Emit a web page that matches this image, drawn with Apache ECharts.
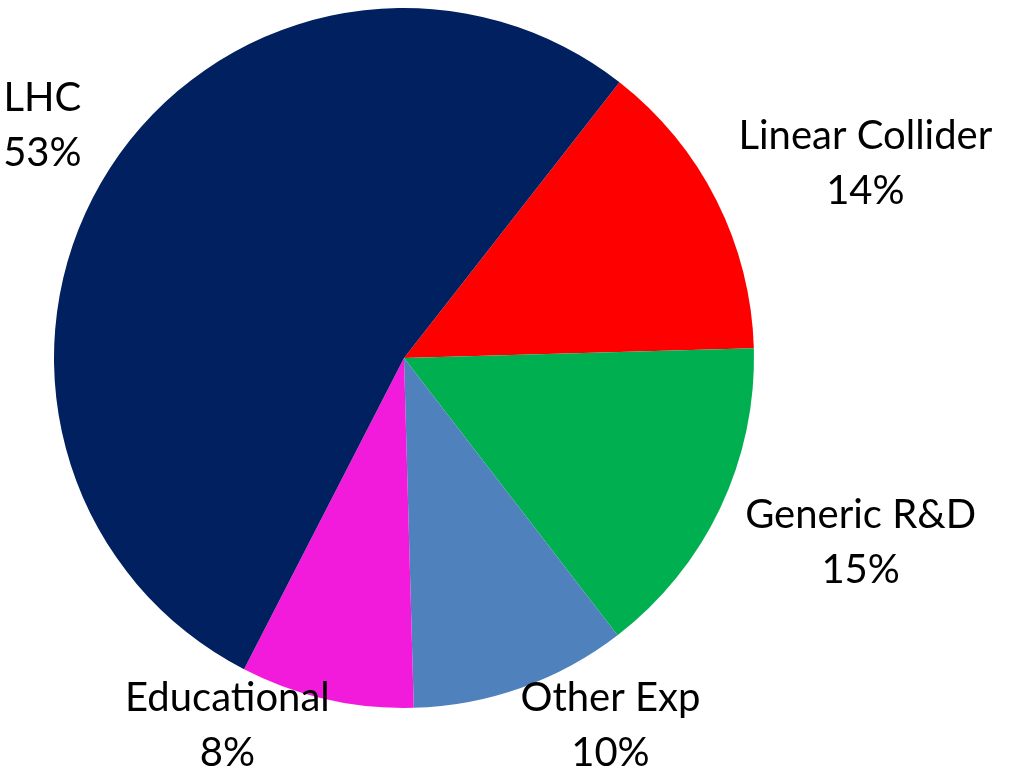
<!DOCTYPE html>
<html>
<head>
<meta charset="utf-8">
<title>Funding share by programme</title>
<script src="https://cdn.jsdelivr.net/npm/echarts@6/dist/echarts.min.js"></script>
<style>
  html, body { margin: 0; padding: 0; background: #ffffff; }
  #chart { width: 1011px; height: 772px; }
</style>
</head>
<body>
<div id="chart"></div>
<script>
// Slices in clockwise order, starting just right of 12 o'clock
const categories = ['Linear Collider', 'Generic R&D', 'Other Exp', 'Educational', 'LHC'];
const shares = [14, 15, 10, 8, 53];          // percent
const sliceColors = ['#FF0000', '#00B050', '#4F81BD', '#F31BDB', '#002060'];

// Pie geometry
const CENTER = [404, 358];
const RADIUS = 350;
const FIRST_EDGE = 38;      // first slice edge, degrees clockwise from 12 o'clock
const LABEL_GAP = 40;       // distance from rim to the label anchor on the bisector
const LABEL_INSET = 14;     // line-box padding above/below the glyphs
const BOTTOM_MARGIN = 5;

const chart = echarts.init(document.getElementById('chart'), null, { renderer: 'canvas' });
const H = 772;

// mid angle of every slice, clockwise from 12 o'clock
const total = shares.reduce((a, b) => a + b, 0);
const midAngles = [];
let acc = FIRST_EDGE;
shares.forEach(v => {
  const sweep = v / total * 360;
  midAngles.push(acc + sweep / 2);
  acc += sweep;
});

// Labels sit outside the rim on the slice bisector, pushed out by half their
// size in the bisector direction. A label that would run off the bottom is
// lifted to the bottom edge and its nearest corner is slid back along the
// bisector instead.
function placeLabel(params) {
  const a = midAngles[params.dataIndex] * Math.PI / 180;
  const dx = Math.sin(a), dy = -Math.cos(a);
  const w = params.labelRect.width;
  const h = params.labelRect.height - 2 * LABEL_INSET;
  const t = RADIUS + LABEL_GAP;
  let cx = CENTER[0] + t * dx + dx * w / 2;
  let cy = CENTER[1] + t * dy + dy * h / 2;
  const maxCy = H - BOTTOM_MARGIN - h / 2;
  if (cy > maxCy) {
    const ox = Math.sign(dx) * w / 2;
    const oy = Math.sign(dy) * h / 2;
    const s = (maxCy - oy - CENTER[1]) / dy;
    cx = CENTER[0] + s * dx + ox;
    cy = maxCy;
  }
  return { x: cx, y: cy, align: 'center', verticalAlign: 'middle' };
}

chart.setOption({
  animation: false,
  backgroundColor: '#ffffff',
  series: [{
    type: 'pie',
    center: CENTER,
    radius: RADIUS,
    startAngle: 90 - FIRST_EDGE,
    clockwise: true,
    avoidLabelOverlap: false,
    emphasis: { disabled: true },
    itemStyle: { borderWidth: 0 },
    label: {
      show: true,
      position: 'outside',
      formatter: p => p.name + '\n' + p.value + '%',
      fontFamily: 'Lato',
      fontSize: 40,
      lineHeight: 55,
      color: '#000000',
      align: 'center'
    },
    labelLine: { show: false },
    labelLayout: placeLabel,
    data: categories.map((name, i) => ({
      name: name,
      value: shares[i],
      itemStyle: { color: sliceColors[i] }
    }))
  }]
});
</script>
</body>
</html>
